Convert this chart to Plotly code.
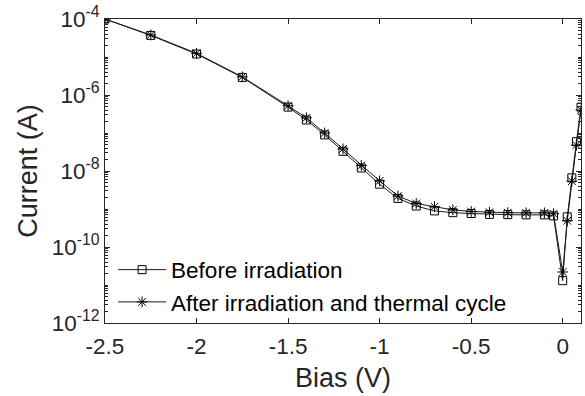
import plotly.graph_objects as go

bias = [-2.5, -2.25, -2.0, -1.75, -1.5, -1.4, -1.3, -1.2, -1.1, -1.0, -0.9, -0.8,
        -0.7, -0.6, -0.5, -0.4, -0.3, -0.2, -0.1, -0.05, 0.0, 0.025, 0.05, 0.075, 0.1]
before = [1.0e-4, 3.7e-5, 1.2e-5, 2.9e-6, 4.8e-7, 2.2e-7, 8.9e-8, 3.3e-8, 1.2e-8, 4.5e-9,
          1.9e-9, 1.2e-9, 8.9e-10, 8.0e-10, 7.6e-10, 7.2e-10, 7.1e-10, 7.0e-10, 7.0e-10,
          6.6e-10, 1.3e-11, 6.2e-10, 6.6e-9, 5.9e-8, 4.8e-7]
after = [1.0e-4, 3.8e-5, 1.25e-5, 3.0e-6, 5.2e-7, 2.5e-7, 1.0e-7, 3.8e-8, 1.4e-8, 5.5e-9,
         2.2e-9, 1.4e-9, 1.15e-9, 9.5e-10, 8.6e-10, 8.2e-10, 8.0e-10, 7.9e-10, 7.9e-10,
         7.5e-10, 2.2e-11, 4.9e-10, 5.4e-9, 4.8e-8, 4.0e-7]
names = ["Before irradiation", "After irradiation and thermal cycle"]

x_ticks = [-2.5, -2.0, -1.5, -1.0, -0.5, 0.0]
x_labels = ["-2.5", "-2", "-1.5", "-1", "-0.5", "0"]
y_ticks = [1e-12, 1e-10, 1e-8, 1e-6, 1e-4]
y_labels = ["10<sup>-12</sup>", "10<sup>-10</sup>", "10<sup>-8</sup>", "10<sup>-6</sup>", "10<sup>-4</sup>"]

axis_col = "#262626"
fsize = 22.5
font = dict(family="Liberation Sans, Arial, sans-serif", size=fsize, color=axis_col)

fig = go.Figure()
fig.add_trace(go.Scatter(
    x=bias, y=before, name=names[0], mode="lines+markers",
    line=dict(color="#1a1a1a", width=1),
    marker=dict(symbol="square-open", size=8, color="black", line=dict(width=1, color="black")),
))
fig.add_trace(go.Scatter(
    x=bias, y=after, name=names[1], mode="lines+markers",
    line=dict(color="#1a1a1a", width=1),
    marker=dict(symbol="asterisk-open", size=9, color="black", line=dict(width=1, color="black")),
))

fig.update_layout(
    width=585, height=396,
    margin=dict(l=105, r=3, t=16, b=73),
    paper_bgcolor="white", plot_bgcolor="white",
    font=font,
    showlegend=True,
    legend=dict(x=0.017, y=0.245, xanchor="left", yanchor="top",
                bgcolor="rgba(0,0,0,0)", font=dict(size=fsize, color="black"),
                tracegroupgap=0, itemwidth=48),
)
fig.update_xaxes(
    range=[-2.5, 0.1], tickvals=x_ticks, ticktext=x_labels,
    ticks="inside", ticklen=5, tickcolor=axis_col, showgrid=False, zeroline=False,
    showline=True, linecolor=axis_col, linewidth=1, mirror="allticks",
    ticklabelstandoff=3,
    title=dict(text="Bias (V)", standoff=10), tickfont=dict(size=fsize),
)
fig.update_yaxes(
    type="log", range=[-12, -4], tickvals=y_ticks, ticktext=y_labels,
    ticks="inside", ticklen=5, tickcolor=axis_col, showgrid=False, zeroline=False,
    showline=True, linecolor=axis_col, linewidth=1, mirror="allticks",
    minor=dict(ticks="inside", ticklen=3, dtick="D1", tickcolor=axis_col, showgrid=False),
    title=dict(text="Current (A)", standoff=6), tickfont=dict(size=fsize),
)

fig.write_html("out.html")
